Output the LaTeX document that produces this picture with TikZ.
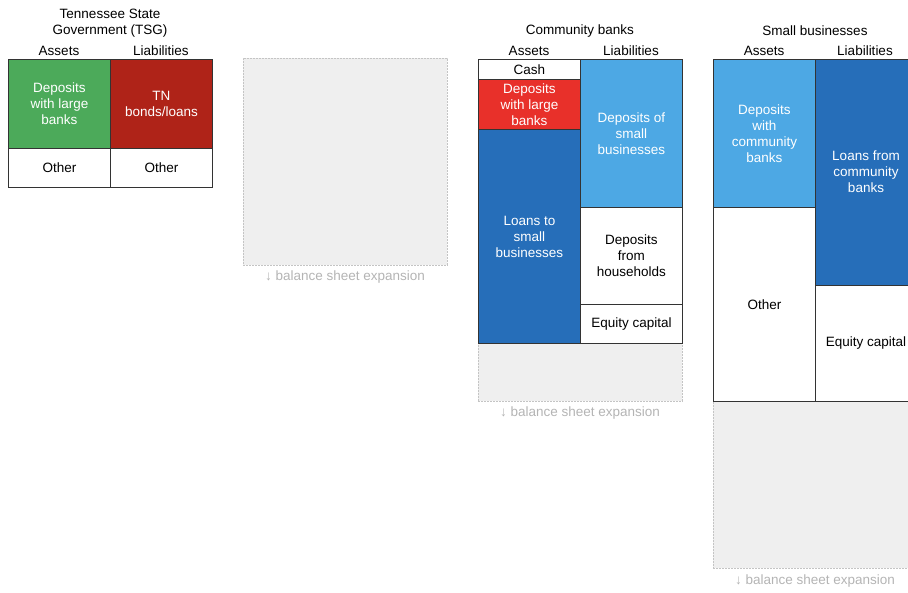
\documentclass[tikz,border=0pt]{standalone}
\usepackage{fontspec}
\setmainfont{Liberation Sans}
\definecolor{tsggreen}{HTML}{4CAA5A}
\definecolor{tsgred}{HTML}{AF2318}
\definecolor{brightred}{HTML}{E8302A}
\definecolor{darkblue}{HTML}{266EB9}
\definecolor{lightblue}{HTML}{4DA8E4}
\definecolor{expfill}{HTML}{EFEFEF}
\definecolor{expline}{HTML}{C4C4C4}
\definecolor{explabel}{HTML}{B4B4B4}
\definecolor{cellline}{HTML}{333333}
\tikzset{
  basefont/.style={font=\fontsize{13.5}{16}\selectfont},
  cellbox/.style={draw=cellline, line width=0.9pt, anchor=north west, inner sep=0pt,
    align=center, basefont},
  whitecell/.style={cellbox, fill=white, text=black},
  colorcell/.style={cellbox, text=white},
  expbox/.style={draw=expline, fill=expfill, dashed, dash pattern=on 2pt off 1pt, line width=0.6pt, anchor=north west, inner sep=0pt},
  explbl/.style={text=explabel, basefont},
  title/.style={basefont, align=center, text=black},
  colhead/.style={basefont, text=black}
}
\newcommand{\cellat}[7]{% name, x1, y1, x2, y2, style, text
  \node[#6, minimum width={(#4-#2)*1pt}, minimum height={(#5-#3)*1pt}] (#1) at (#2,#3) {#7};}
\begin{document}
\begin{tikzpicture}[x=1pt,y=-1pt]
\useasboundingbox (0,0) rectangle (908,592);
\clip (0,0) rectangle (908,592);
% ---------- TSG ----------
\node[title] (tsgtitle) at (110,23) {Tennessee State\\Government (TSG)};
\node[colhead] (tsgA) at (59,51) {Assets};
\node[colhead] (tsgL) at (161,51) {Liabilities};
\cellat{tsgdep}{8}{59}{110}{148}{colorcell, fill=tsggreen}{Deposits\\with large\\banks}
\cellat{tsgbond}{110}{59}{212}{148}{colorcell, fill=tsgred}{TN\\bonds/loans}
\cellat{tsgoa}{8}{148}{110}{187}{whitecell}{Other}
\cellat{tsgol}{110}{148}{212}{187}{whitecell}{Other}
% ---------- blank expansion ----------
\cellat{exp1}{243}{58}{447}{265}{expbox}{}
\node[explbl] (exp1lbl) at (345,277) {↓ balance sheet expansion};
% ---------- Community banks ----------
\node[title] (cbtitle) at (580,31) {Community banks};
\node[colhead] (cbA) at (529,51) {Assets};
\node[colhead] (cbL) at (631,51) {Liabilities};
\cellat{cbexp}{478}{343}{682}{401}{expbox}{}
\cellat{cbcash}{478}{59}{580}{79}{whitecell}{Cash}
\cellat{cbdep}{478}{79}{580}{129}{colorcell, fill=brightred}{Deposits\\with large\\banks}
\cellat{cbloan}{478}{129}{580}{343}{colorcell, fill=darkblue}{Loans to\\small\\businesses}
\cellat{cbdsb}{580}{59}{682}{207}{colorcell, fill=lightblue}{Deposits of\\small\\businesses}
\cellat{cbdhh}{580}{207}{682}{304}{whitecell}{Deposits\\from\\households}
\cellat{cbeq}{580}{304}{682}{343}{whitecell}{Equity capital}
\node[explbl] (cbexplbl) at (580,413) {↓ balance sheet expansion};
% ---------- Small businesses ----------
\node[title] (sbtitle) at (815,31) {Small businesses};
\node[colhead] (sbA) at (764,51) {Assets};
\node[colhead] (sbL) at (865,51) {Liabilities};
\cellat{sbexp}{713}{401}{917}{568}{expbox}{}
\cellat{sbdep}{713}{59}{815}{207}{colorcell, fill=lightblue}{Deposits\\with\\community\\banks}
\cellat{sbother}{713}{207}{815}{401}{whitecell}{Other}
\cellat{sbloan}{815}{59}{917}{285}{colorcell, fill=darkblue}{}
\node[basefont, text=white, align=center] (sbloanlbl) at (866,172) {Loans from\\community\\banks};
\cellat{sbeq}{815}{285}{917}{401}{whitecell}{}
\node[basefont, text=black] (sbeqlbl) at (866,343) {Equity capital};
\node[explbl] (sbexplbl) at (815,581) {↓ balance sheet expansion};
\end{tikzpicture}
\end{document}
